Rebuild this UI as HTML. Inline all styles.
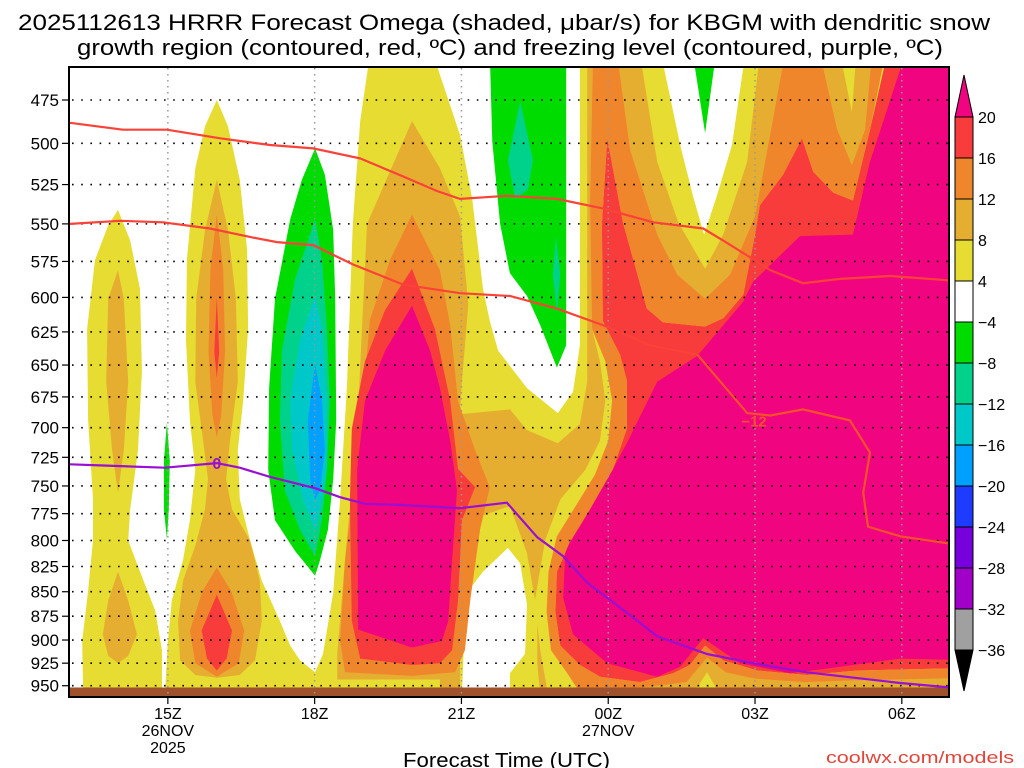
<!DOCTYPE html>
<html><head><meta charset="utf-8"><title>HRRR Omega KBGM</title>
<style>
html,body{margin:0;padding:0;background:#fff;}
svg{display:block;font-family:"Liberation Sans","DejaVu Sans",sans-serif;}
</style></head>
<body>
<svg id="chart" width="1024" height="768" viewBox="0 0 1024 768" xmlns="http://www.w3.org/2000/svg">
<text x="18" y="30" font-size="22" textLength="972" lengthAdjust="spacingAndGlyphs" fill="#000">2025112613 HRRR Forecast Omega (shaded, μbar/s) for KBGM with dendritic snow</text>
<text x="77" y="55" font-size="22" textLength="866" lengthAdjust="spacingAndGlyphs" fill="#000">growth region (contoured, red, ºC) and freezing level (contoured, purple, ºC)</text>
<defs><clipPath id="plotclip"><rect x="70" y="67" width="879" height="629"/></clipPath></defs>
<rect x="70" y="67" width="879" height="629" fill="#fff"/>
<g id="fills" clip-path="url(#plotclip)"></g>
<g id="grid" clip-path="url(#plotclip)"></g>
<g id="lines" clip-path="url(#plotclip)"></g>
<g id="axes"></g>
<g id="cbar"></g>
<text x="403" y="767" font-size="20" textLength="207" lengthAdjust="spacingAndGlyphs" fill="#000">Forecast Time (UTC)</text>
<text x="826" y="763" font-size="17" textLength="188" lengthAdjust="spacingAndGlyphs" fill="#e0453c">coolwx.com/models</text>
</svg>
<script>
// ---- data (hours since 13Z, pressure hPa) ----
const pressureTicks = [475,500,525,550,575,600,625,650,675,700,725,750,775,800,825,850,875,900,925,950];
const timeTickHours = [2,5,8,11,14,17];
const timeTickLabels = ["15Z","18Z","21Z","00Z","03Z","06Z"];
const dateLabels = [[2,"26NOV"],[2,"2025"],[11,"27NOV"]];
const cbarLabels = ["20","16","12","8","4","\u22124","\u22128","\u221212","\u221216","\u221220","\u221224","\u221228","\u221232","\u221236"];
const cbarColors = ["#f83c3c","#f0862c","#e6ae30","#e6dc32","#ffffff","#00dc00","#00d28c","#00c8c8","#00a0ff","#1e3cff","#7800dc","#a000c8","#a0a0a0"];

const Y1 = [[0.98,541],[1.23,561],[1.43,594],[1.47,655],[1.39,719],[1.23,771],[1.19,800],[1.43,830],[1.74,869],[1.88,911],[1.88,960],[0.27,960],[0.25,901],[0.37,849],[0.47,800],[0.47,762],[0.37,694],[0.35,623],[0.51,574],[0.78,551]];
const Y2 = [[3.00,475],[3.23,490],[3.47,522],[3.62,567],[3.64,623],[3.54,678],[3.43,719],[3.47,762],[3.68,800],[3.92,839],[4.29,880],[4.50,906],[4.70,922],[5.01,935],[5.01,960],[1.94,960],[2.00,901],[2.08,859],[2.31,819],[2.45,781],[2.56,736],[2.45,694],[2.37,631],[2.39,574],[2.56,515],[2.76,490]];
const Y3 = [[6.13,450],[18.5,450],[18.5,962],[5.01,962],[5.01,935],[5.17,915],[5.38,851],[5.52,762],[5.66,668],[5.78,550],[5.93,487]];
const Gmid = [[10.57,450],[10.77,450],[10.77,535],[10.67,623],[10.83,647],[10.94,678],[10.83,711],[10.53,736],[10.02,762],[9.71,800],[9.50,859],[9.61,911],[9.77,960],[7.56,960],[7.56,694],[7.97,689],[8.99,685],[9.34,702],[9.97,713],[10.42,697],[10.57,663]];
const YH3 = [[7.97,784],[8.99,768],[9.34,812],[9.55,872],[9.55,925],[9.61,960],[7.97,960]];
const W1 = [[7.42,450],[7.97,495],[8.22,534],[8.44,594],[8.58,617],[8.75,639],[9.34,668],[9.97,688],[10.28,671],[10.42,635],[10.42,450]];
const W3 = [[8.01,960],[8.07,880],[8.11,851],[8.44,830],[8.95,807],[9.20,822],[9.34,863],[9.30,915],[8.99,936],[8.99,960]];
const G1a = [[0.98,581],[1.10,601],[1.19,663],[1.10,719],[0.98,756],[0.86,719],[0.74,663],[0.78,601]];
const G1b = [[0.98,830],[1.19,859],[1.37,894],[1.19,917],[0.98,925],[0.78,917],[0.67,894],[0.78,859]];
const G2 = [[3.00,522],[3.23,554],[3.39,601],[3.43,663],[3.27,711],[3.19,744],[3.31,771],[3.68,800],[3.88,839],[3.92,880],[3.78,922],[3.47,938],[3.00,941],[2.56,938],[2.25,922],[2.21,880],[2.31,839],[2.56,805],[2.76,771],[2.82,744],[2.72,711],[2.56,663],[2.58,601],[2.76,554]];
const O2 = [[3.00,544],[3.13,580],[3.17,640],[3.09,690],[3.00,708],[2.91,690],[2.83,640],[2.87,580]];
const O2b = [[3.00,826],[3.30,850],[3.56,890],[3.45,925],[3.00,940],[2.56,925],[2.45,890],[2.70,850]];
const R2 = [[3.00,600],[3.05,640],[3.00,660],[2.95,640]];
const R2b = [[3.00,853],[3.31,890],[3.20,920],[3.00,933],[2.80,920],[2.69,890]];
const G4 = [[6.99,487],[7.56,515],[7.97,545],[8.14,605],[8.01,663],[7.97,688],[8.07,740],[7.97,819],[7.91,943],[5.46,943],[5.46,915],[5.62,819],[5.87,701],[6.07,550]];
const O4 = [[6.99,544],[7.56,581],[7.77,620],[7.93,678],[8.28,719],[8.58,751],[8.38,790],[8.18,859],[8.07,911],[7.87,935],[6.99,939],[5.62,935],[5.52,901],[5.62,819],[5.93,701],[6.13,616],[6.54,574]];
const R4 = [[6.99,580],[7.46,623],[7.77,678],[7.93,735],[8.28,751],[8.01,781],[7.93,859],[7.81,911],[7.56,925],[6.99,927],[5.93,920],[5.76,880],[5.72,762],[5.76,701],[6.03,647],[6.44,609]];
const M4 = [[6.99,606],[7.36,639],[7.56,668],[7.77,711],[7.91,754],[7.81,819],[7.73,880],[7.60,901],[6.99,908],[5.89,889],[5.87,735],[6.03,678],[6.44,639]];
const Rright = [[10.98,497],[11.30,549],[11.79,608],[12.12,618],[12.98,621],[13.35,615],[13.76,598],[14.00,557],[14.10,538],[14.57,519],[14.96,497],[15.19,517],[15.60,530],[16.00,535],[16.35,492],[16.70,450],[18.5,450],[18.5,930],[16.09,933],[15.06,938],[14.04,933],[13.35,922],[12.98,906],[12.67,927],[12.33,936],[11.65,946],[10.83,940],[10.42,927],[10.02,906],[9.92,871],[9.95,830],[10.20,803],[10.63,771],[11.10,735],[11.38,701],[11.38,662],[11.24,642],[10.89,617],[10.87,550]];
const Mright = [[17.07,450],[18.5,450],[18.5,922],[16.97,920],[15.74,929],[14.72,936],[13.69,925],[13.22,908],[12.94,898],[12.47,929],[12.00,940],[10.98,925],[10.28,894],[10.08,856],[10.12,812],[10.42,774],[10.98,744],[11.38,713],[12.00,663],[12.82,643],[13.76,603],[13.96,589],[14.92,558],[16.00,557],[16.35,511]];
const Otop = [[10.69,450],[16.66,450],[16.35,492],[16.00,535],[15.60,530],[15.19,517],[14.96,497],[14.57,519],[14.10,538],[14.00,557],[13.76,598],[13.35,615],[12.98,621],[12.12,618],[11.79,608],[11.30,549],[10.98,497],[10.87,550],[10.89,617],[11.24,642],[11.38,662],[11.38,701],[11.10,735],[10.63,771],[10.20,803],[9.95,830],[9.92,871],[10.02,906],[10.42,927],[10.83,940],[10.83,960],[10.45,960],[10.15,935],[9.83,911],[9.74,871],[9.78,830],[9.95,796],[10.35,767],[10.73,740],[11.00,711],[11.08,678],[10.94,647],[10.67,623],[10.63,535]];
const Obottom = [[10.83,940],[11.65,946],[12.33,936],[12.67,927],[12.98,906],[13.35,922],[14.04,933],[15.06,938],[16.09,933],[18.5,930],[18.5,962],[10.83,962]];
const Gbottom = [[10.83,962],[11.5,953],[12.6,946],[13.02,919],[13.4,935],[14.0,942],[15.0,946],[16.0,944],[18.5,941],[18.5,962]];
const Ytip = [[12.7,962],[13.02,935],[13.3,962]];
const GV = [[11.18,450],[11.45,504],[12.00,557],[12.41,584],[12.98,601],[13.49,584],[14.00,545],[14.25,504],[14.61,450]];
const GV2 = [[15.33,450],[15.68,492],[15.98,513],[16.25,492],[16.39,450]];
const YV = [[11.65,450],[12.00,511],[12.43,549],[12.98,580],[13.35,557],[13.84,511],[14.10,450]];
const YV2 = [[15.74,450],[15.98,482],[16.07,450]];
const W2 = [[12.08,450],[12.47,501],[12.73,532],[12.96,557],[13.22,532],[13.53,501],[13.80,450]];
const GRtip = [[12.73,450],[13.20,450],[12.98,494]];
const GR3 = [[5.01,503],[5.21,519],[5.38,554],[5.42,601],[5.44,694],[5.38,744],[5.27,790],[5.11,819],[5.01,834],[4.60,810],[4.19,781],[4.05,736],[4.07,668],[4.19,601],[4.50,547],[4.74,522]];
const TE3 = [[5.01,547],[5.15,574],[5.25,623],[5.31,678],[5.25,736],[5.15,781],[5.01,815],[4.70,790],[4.39,754],[4.29,694],[4.33,639],[4.60,587]];
const CY3 = [[5.01,599],[5.15,623],[5.25,678],[5.25,736],[5.11,771],[5.01,790],[4.76,762],[4.54,719],[4.50,678],[4.70,631]];
const BL3 = [[5.01,649],[5.15,678],[5.21,719],[5.11,754],[5.01,762],[4.91,744],[4.86,694]];
const GRsliver = [[1.98,696],[2.04,728],[2.02,771],[1.98,799],[1.92,771],[1.92,728]];
const GR5 = [[8.58,450],[10.14,450],[10.14,635],[9.95,652],[9.61,620],[9.34,599],[8.99,583],[8.79,550],[8.63,499]];
const TE5a = [[9.20,476],[9.46,510],[9.36,528],[9.10,534],[8.95,510]];
const TE5b = [[9.93,558],[10.02,584],[9.95,611],[9.87,584]];

const dgzTop = [[0,488],[1.08,492],[1.98,492],[3.07,497],[4.09,501],[4.97,503],[5.93,509],[6.81,520],[7.50,529],[7.97,534],[8.93,532],[9.95,534],[10.89,540],[11.92,549],[12.94,553],[13.35,561],[13.84,571],[14.31,581],[14.98,590],[15.74,587],[16.76,585],[17.95,588]];
const dgzBottom = [[0,550],[1.02,548],[1.90,549],[2.86,553],[3.74,559],[4.23,562],[4.97,564],[5.78,577],[6.81,591],[7.97,597],[8.99,599],[9.95,608],[10.89,620],[11.85,635],[12.82,642],[13.84,688],[14.31,690],[14.98,685],[15.94,694],[16.35,721],[16.21,756],[16.31,787],[16.97,796],[17.99,803]];
const freezingLevel = [[0,731],[0.61,732],[1.94,734],[3.00,730],[3.47,734],[4.09,742],[5.01,752],[5.52,760],[6.03,766],[6.74,767],[7.56,769],[7.97,770],[8.93,765],[9.55,797],[10.08,815],[10.57,841],[10.98,856],[12.00,896],[13.02,915],[13.96,925],[15.06,935],[16.97,947],[17.99,952]];
const dgzLabel = [13.98,694,"\u221212"];
const fzLabel = [3.00,730,"0"];

// ---- scales ----
const X0 = 70, PXH = 48.93;
function xS(h){ return X0 + h*PXH; }
function yS(p){ return 100 + 845*Math.log(p/475); }
const NS = "http://www.w3.org/2000/svg";
function mk(tag, attrs, parent){
  const e = document.createElementNS(NS, tag);
  for (const k in attrs) e.setAttribute(k, attrs[k]);
  parent.appendChild(e);
  return e;
}
function pts(arr){ return arr.map(d => xS(d[0]).toFixed(1)+","+yS(d[1]).toFixed(1)).join(" "); }

const C = {Y:"#e6dc32",G:"#e6ae30",O:"#f0862c",R:"#f83c3c",M:"#f0047f",W:"#ffffff",GR:"#00dc00",TE:"#00d28c",CY:"#00c8c8",BL:"#00a0ff"};
const fills = document.getElementById("fills");
const layers = [
 ["yellow-col1",Y1,"Y"],["yellow-col2",Y2,"Y"],["yellow-main",Y3,"Y"],
 ["gold-mid",Gmid,"G"],["yellow-hole",YH3,"Y"],["white-gap-top",W1,"W"],["white-gap-bottom",W3,"W"],
 ["gold-col1-upper",G1a,"G"],["gold-col1-lower",G1b,"G"],["gold-col2",G2,"G"],
 ["orange-col2-upper",O2,"O"],["orange-col2-lower",O2b,"O"],["red-col2-upper",R2,"R"],["red-col2-lower",R2b,"R"],
 ["gold-col4",G4,"G"],["orange-col4",O4,"O"],["red-col4",R4,"R"],["magenta-col4",M4,"M"],
 ["red-right",Rright,"R"],["magenta-right",Mright,"M"],["orange-right-top",Otop,"O"],
 ["orange-right-bottom",Obottom,"O"],["gold-right-bottom",Gbottom,"G"],["yellow-tip",Ytip,"Y"],
 ["gold-v",GV,"G"],["gold-v2",GV2,"G"],["yellow-v",YV,"Y"],["yellow-v2",YV2,"Y"],["white-v",W2,"W"],["green-tip",GRtip,"GR"],
 ["green-col3",GR3,"GR"],["teal-col3",TE3,"TE"],["cyan-col3",CY3,"CY"],["blue-col3",BL3,"BL"],
 ["green-sliver",GRsliver,"GR"],["green-col5",GR5,"GR"],["teal-col5a",TE5a,"TE"],["teal-col5b",TE5b,"TE"]
];
layers.forEach(L => {
  const e = mk("polygon", {points: pts(L[1]), fill: C[L[2]]}, fills);
  
  
});
const ground = mk("rect", {x:70, y:yS(952), width:879, height:20, fill:"#a0522d"}, fills);



// grid
const grid = document.getElementById("grid");
pressureTicks.forEach(p => {
  const l = mk("line", {x1:72, x2:948, y1:yS(p), y2:yS(p), stroke:"#000", "stroke-width":1.6, "stroke-dasharray":"1.6,7.6"}, grid);
  
  
});
timeTickHours.forEach(h => {
  const l = mk("line", {x1:xS(h), x2:xS(h), y1:68, y2:696, stroke:"#999", "stroke-width":1.5, "stroke-dasharray":"1.5,4.5"}, grid);
  
  
});

// contour lines
const lines = document.getElementById("lines");
function poly(arr){ return arr.map(d => xS(d[0]).toFixed(1)+","+yS(d[1]).toFixed(1)).join(" "); }
const l1 = mk("polyline", {points: poly(dgzTop), fill:"none", stroke:"#fa4238", "stroke-width":2.2}, lines);


const l2 = mk("polyline", {points: poly(dgzBottom.slice(0,15)), fill:"none", stroke:"#fa4238", "stroke-width":2.2}, lines);


const l2b = mk("polyline", {points: poly(dgzBottom.slice(14)), fill:"none", stroke:"#f5502c", "stroke-width":2.2}, lines);


const t12 = mk("text", {x:xS(dgzLabel[0]), y:yS(dgzLabel[1])+6, "font-size":15, "font-weight":"bold", "text-anchor":"middle", fill:"#f5502c"}, lines);
t12.textContent = dgzLabel[2];


const l3 = mk("polyline", {points: poly(freezingLevel), fill:"none", stroke:"#9a10d2", "stroke-width":2.2}, lines);


const t0 = mk("text", {x:xS(fzLabel[0]), y:yS(fzLabel[1])+6, "font-size":16, "font-weight":"bold", "text-anchor":"middle", fill:"#9a10d2"}, lines);
t0.textContent = fzLabel[2];



// axes
const axes = document.getElementById("axes");
const frame = mk("rect", {x:69, y:67, width:880, height:630, fill:"none", stroke:"#000", "stroke-width":2}, axes);


pressureTicks.forEach(p => {
  const t = mk("line", {x1:62, x2:69, y1:yS(p), y2:yS(p), stroke:"#000", "stroke-width":1.2}, axes);
  
  
  const tx = mk("text", {x:59, y:yS(p)+6, "font-size":17, "text-anchor":"end", fill:"#000"}, axes);
  tx.textContent = String(p);
  
  
});
timeTickHours.forEach((h,i) => {
  const t = mk("line", {x1:xS(h), x2:xS(h), y1:697, y2:704, stroke:"#000", "stroke-width":1.2}, axes);
  
  
  const tx = mk("text", {x:xS(h), y:719, "font-size":16, "text-anchor":"middle", fill:"#000"}, axes);
  tx.textContent = timeTickLabels[i];
  
  
});
dateLabels.forEach((d,i) => {
  const row = (i===1) ? 2 : 1;
  const tx = mk("text", {x:xS(d[0]), y:719+17*row, "font-size":16, "text-anchor":"middle", fill:"#000"}, axes);
  tx.textContent = d[1];
  
  
});

// colorbar
const cbar = document.getElementById("cbar");
const CB_X = 955, CB_W = 18, CB_TOP = 117, CB_H = 41;
const up = mk("polygon", {points:`${CB_X},${CB_TOP} ${CB_X+CB_W},${CB_TOP} ${CB_X+CB_W/2},75`, fill:"#f0047f", stroke:"#000", "stroke-width":1}, cbar);


cbarColors.forEach((c,i) => {
  const r = mk("rect", {x:CB_X, y:CB_TOP+i*CB_H, width:CB_W, height:CB_H, fill:c, stroke:"#000", "stroke-width":1}, cbar);
  
  
});
const bottomY = CB_TOP + cbarColors.length*CB_H;
const dn = mk("polygon", {points:`${CB_X},${bottomY} ${CB_X+CB_W},${bottomY} ${CB_X+CB_W/2},691`, fill:"#000", stroke:"#000", "stroke-width":1}, cbar);


cbarLabels.forEach((s,i) => {
  const tx = mk("text", {x:978, y:CB_TOP+i*CB_H+6, "font-size":16, fill:"#000"}, cbar);
  tx.textContent = s;
  
  
});
</script>
</body></html>
